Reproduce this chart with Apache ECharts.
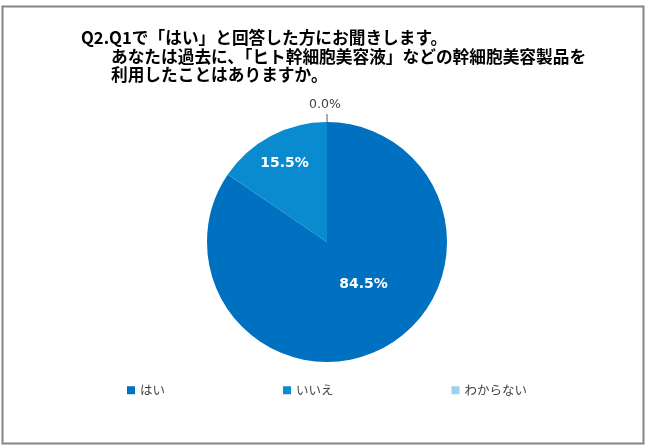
<!DOCTYPE html>
<html><head><meta charset="utf-8">
<script src="https://cdn.jsdelivr.net/npm/echarts@6/dist/echarts.min.js"></script>
<style>html,body{margin:0;padding:0;background:#fff}#c{width:650px;height:448px}</style>
</head><body><div id="c"></div>
<script>
const titleLine1 = 'Q2.Q1で「はい」と回答した方にお聞きします。';
const titleLine2 = 'あなたは過去に、「ヒト幹細胞美容液」などの幹細胞美容製品を\n利用したことはありますか。';
const categories = ['はい', 'いいえ', 'わからない'];
const values = [84.5, 15.5, 0.0];
const colors = ['#0070C0', '#0a8bd0', '#9dcfee'];

const labelOffsets = [[7, -13], [-13, -23], [0, 0]];

const chart = echarts.init(document.getElementById('c'), null, {renderer: 'canvas'});
const data = categories.map((name, i) => {
  const item = {name: name, value: values[i], itemStyle: {color: colors[i]}};
  if (values[i] === 0) {
    item.label = {position: 'outside', color: '#404040', fontWeight: 'normal', fontSize: 12.5, distanceToLabelLine: 2};
    item.labelLine = {show: true, length: 8, length2: 0, lineStyle: {color: '#595959', width: 1}};
  }
  return item;
});

const titleStyle = {fontFamily: '"Noto Sans CJK JP"', fontSize: 16.7, fontWeight: 'bold', color: '#000', lineHeight: 18.5};

chart.setOption({
  animation: false,
  backgroundColor: '#fff',
  graphic: [{
    type: 'rect', shape: {x: 2.5, y: 6.5, width: 641, height: 437},
    style: {fill: 'none', stroke: '#858585', lineWidth: 2}, silent: true, z: 100
  }],
  title: [
    {text: titleLine1, left: 81, top: 28, padding: 0, textStyle: titleStyle},
    {text: titleLine2, left: 111, top: 47, padding: 0, textStyle: titleStyle}
  ],
  legend: {
    data: categories, left: 127, top: 384, padding: 0, itemWidth: 8, itemHeight: 8, itemGap: 118,
    icon: 'rect',
    textStyle: {fontFamily: '"Noto Sans CJK JP"', fontSize: 12.5, color: '#404040', padding: [0, 0, 0, 0]}
  },
  series: [{
    type: 'pie',
    center: [327, 242],
    radius: [0, 120],
    startAngle: 90,
    clockwise: true,
    avoidLabelOverlap: false,
    itemStyle: {borderWidth: 0},
    label: {
      show: true, position: 'inside',
      formatter: p => p.value.toFixed(1) + '%',
      fontFamily: '"DejaVu Sans"', fontSize: 14, fontWeight: 'bold', color: '#fff'
    },
    labelLayout: function (p) {
      if (values[p.dataIndex] === 0) {
        return {align: 'center', verticalAlign: 'bottom', dy: -3};
      }
      const o = labelOffsets[p.dataIndex];
      return {dx: o[0], dy: o[1]};
    },
    emphasis: {disabled: true},
    data: data
  }]
});
</script></body></html>
